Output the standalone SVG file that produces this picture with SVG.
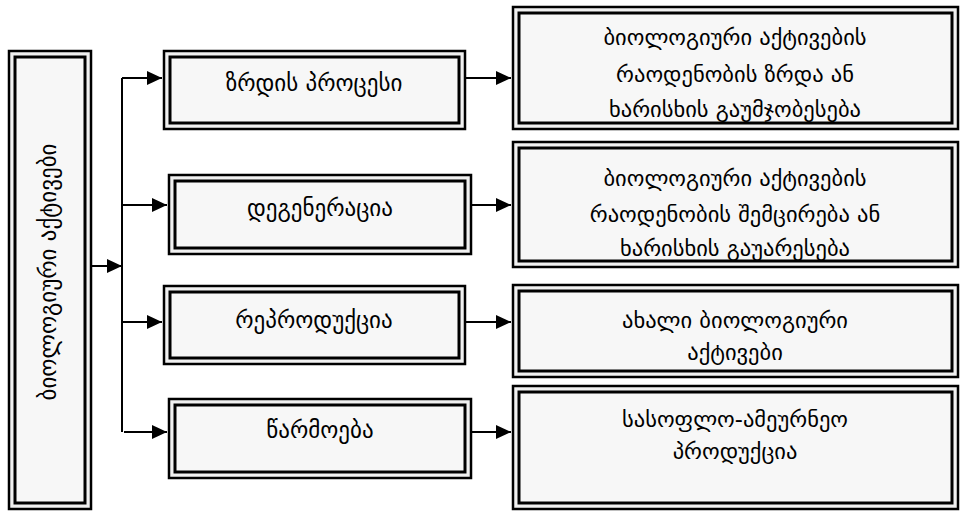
<svg xmlns="http://www.w3.org/2000/svg" width="960" height="511" viewBox="0 0 960 511">
<defs>
<style>
.o{fill:#f0f0f0;stroke:#000;stroke-width:2.5}
.i{fill:#f7f7f7;stroke:#000;stroke-width:3}
.t{font-family:"DejaVu Sans",sans-serif;font-size:23px;fill:#000;text-anchor:middle}
.r{font-size:22.5px}
.c{fill:none;stroke:#000;stroke-width:2}
</style>
<marker id="ah" markerUnits="userSpaceOnUse" markerWidth="16" markerHeight="14" refX="15" refY="7" orient="auto">
<path d="M0,0 L15,7 L0,14 z" fill="#000"/>
</marker>
</defs>
<rect width="960" height="511" fill="#fff"/>
<g id="connectors">
<path class="c" d="M86,266 H122" marker-end="url(#ah)"/>
<path class="c" d="M122,78 V432"/>
<path class="c" d="M122,78 H162" marker-end="url(#ah)"/>
<path class="c" d="M122,205 H167" marker-end="url(#ah)"/>
<path class="c" d="M122,322 H162" marker-end="url(#ah)"/>
<path class="c" d="M124,432 H167" marker-end="url(#ah)"/>
<path class="c" d="M462,78 H511" marker-end="url(#ah)"/>
<path class="c" d="M468,205 H511" marker-end="url(#ah)"/>
<path class="c" d="M462,322 H511" marker-end="url(#ah)"/>
<path class="c" d="M468,432 H511" marker-end="url(#ah)"/>
</g>
<g id="root">
<rect class="o" x="9" y="51" width="82" height="458"/>
<rect class="i" x="15" y="57" width="70" height="446"/>
<text class="t" transform="translate(56,272) rotate(-90)">ბიოლოგიური აქტივები</text>
</g>
<g id="n1">
<rect class="o" x="164" y="51" width="301" height="78"/>
<rect class="i" x="170" y="57" width="289" height="66"/>
<text class="t" x="314" y="91">ზრდის პროცესი</text>
</g>
<g id="n2">
<rect class="o" x="169" y="175" width="302" height="79"/>
<rect class="i" x="175" y="181" width="290" height="67"/>
<text class="t" x="320" y="216">დეგენერაცია</text>
</g>
<g id="n3">
<rect class="o" x="164" y="286" width="301" height="78"/>
<rect class="i" x="170" y="292" width="289" height="66"/>
<text class="t" x="314" y="328">რეპროდუქცია</text>
</g>
<g id="n4">
<rect class="o" x="169" y="399" width="302" height="79"/>
<rect class="i" x="175" y="405" width="290" height="67"/>
<text class="t" x="320" y="438">წარმოება</text>
</g>
<g id="r1">
<rect class="o" x="513" y="7" width="445" height="122"/>
<rect class="i" x="519" y="13" width="433" height="110"/>
<text class="t r" x="735" y="45">ბიოლოგიური აქტივების</text>
<text class="t r" x="735" y="82">რაოდენობის ზრდა ან</text>
<text class="t r" x="735" y="117">ხარისხის გაუმჯობესება</text>
</g>
<g id="r2">
<rect class="o" x="513" y="142" width="445" height="125"/>
<rect class="i" x="519" y="148" width="433" height="113"/>
<text class="t r" x="735" y="186">ბიოლოგიური აქტივების</text>
<text class="t r" x="735" y="222">რაოდენობის შემცირება ან</text>
<text class="t r" x="735" y="256">ხარისხის გაუარესება</text>
</g>
<g id="r3">
<rect class="o" x="513" y="285" width="445" height="92"/>
<rect class="i" x="519" y="291" width="433" height="80"/>
<text class="t r" x="735" y="328">ახალი ბიოლოგიური</text>
<text class="t r" x="735" y="360">აქტივები</text>
</g>
<g id="r4">
<rect class="o" x="513" y="386" width="445" height="123"/>
<rect class="i" x="519" y="392" width="433" height="111"/>
<text class="t r" x="735" y="427">სასოფლო-ამეურნეო</text>
<text class="t r" x="735" y="459">პროდუქცია</text>
</g>
</svg>
